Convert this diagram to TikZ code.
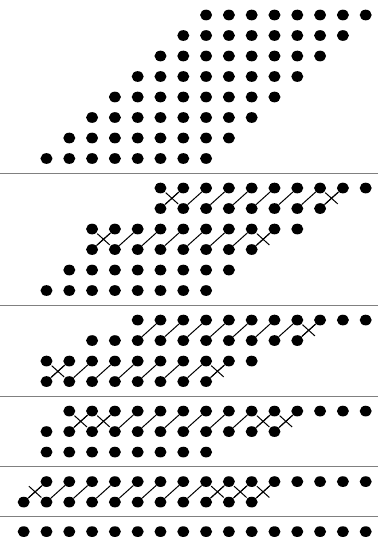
\documentclass[tikz,border=0pt]{standalone}
\usepackage{tikz}
\usetikzlibrary{shapes.geometric,shapes.misc}

\begin{document}
\begin{tikzpicture}[x=22.8pt,y=-20.5pt,
    dot/.style={ellipse,fill,inner sep=0pt,minimum width=12pt,minimum height=10.7pt},
    link/.style={line width=1pt},
    swapx/.style={cross out,draw,line width=1pt,inner sep=0pt,minimum width=11.5pt,minimum height=10.3pt},
    rule/.style={draw=black!50,line width=1.2pt}]
  \useasboundingbox (-1.039,0) rectangle (15.539,26.439);
  % dots: section/row/y/first/last
  \foreach \s/\r/\y/\a/\b in {1/1/0.732/8/15, 1/2/1.732/7/14, 1/3/2.732/6/13, 1/4/3.732/5/12,
      1/5/4.732/4/11, 1/6/5.732/3/10, 1/7/6.732/2/9, 1/8/7.732/1/8,
      2/1/9.172/6/15, 2/2/10.172/6/13, 2/3/11.172/3/12, 2/4/12.172/3/10, 2/5/13.172/2/9, 2/6/14.172/1/8,
      3/1/15.612/5/15, 3/2/16.612/3/12, 3/3/17.612/1/10, 3/4/18.612/1/8,
      4/1/20.052/2/15, 4/2/21.052/1/11, 4/3/22.052/1/8,
      5/1/23.492/1/15, 5/2/24.492/0/10,
      6/1/25.932/0/15}
    \foreach \c in {\a,...,\b}
      \node[dot] (d\s-\r-\c) at (\c,\y) {};
  % links lower row -> upper row, one column to the right
  \foreach \s/\lo/\up/\a/\b in {2/2/1/6/13, 2/4/3/3/10, 3/2/1/5/12, 3/4/3/1/8, 4/2/1/2/11, 5/2/1/0/10}
    \foreach \c in {\a,...,\b}
      {
        \pgfmathtruncatemacro{\nx}{\c+1}
        \draw[link] (d\s-\lo-\c) -- (d\s-\up-\nx);
      }
  % crossed links
  \foreach \s/\lo/\up/\c in {2/2/1/6, 2/2/1/13, 2/4/3/3, 2/4/3/10, 3/2/1/12, 3/4/3/1, 3/4/3/8,
      4/2/1/2, 4/2/1/3, 4/2/1/10, 4/2/1/11, 5/2/1/0, 5/2/1/8, 5/2/1/9, 5/2/1/10}
    {
      \pgfmathtruncatemacro{\nx}{\c+1}
      \path (d\s-\lo-\c) -- node[swapx]{} (d\s-\up-\nx);
    }
  % separators
  \foreach \y in {8.452,14.892,19.332,22.772,25.212}
    \draw[rule] (-1.039,\y) -- (15.539,\y);
\end{tikzpicture}
\end{document}
